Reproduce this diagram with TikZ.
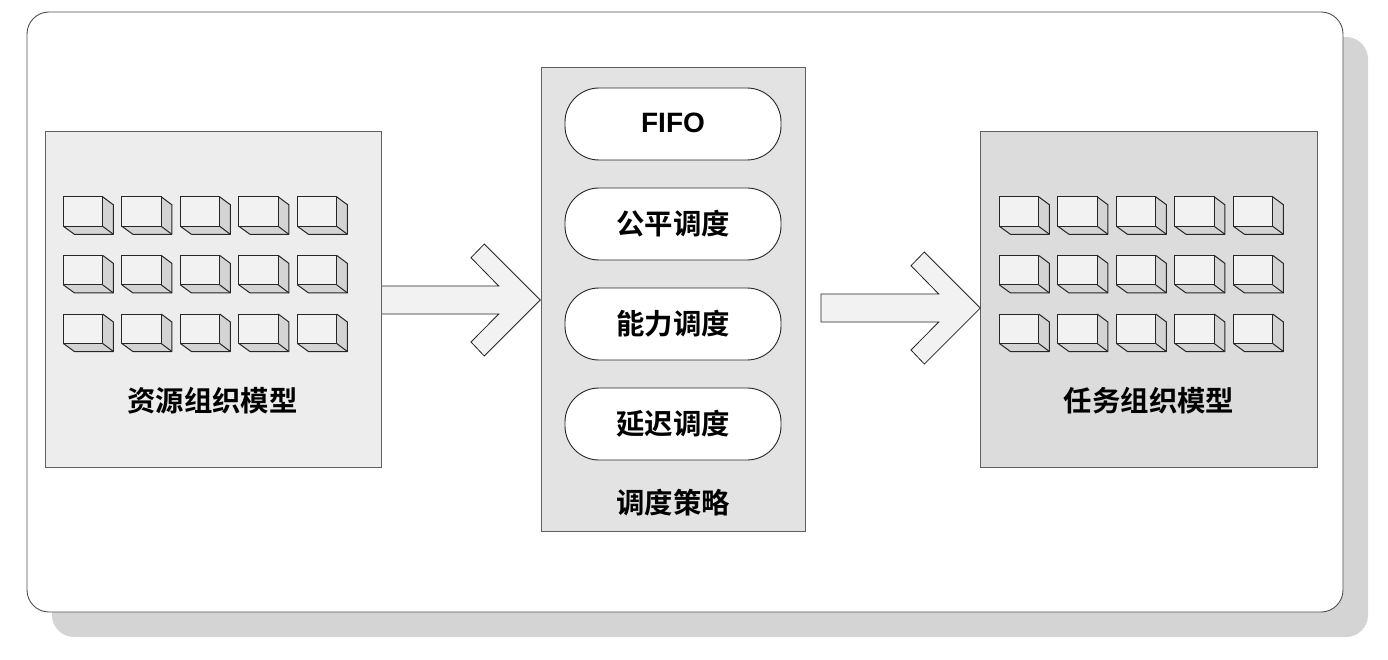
\documentclass[tikz,border=0pt]{standalone}
\usepackage{fontspec}
\newfontfamily\cjk{Noto Sans CJK SC Bold}[BoldFont={Noto Sans CJK SC Bold}]
\newfontfamily\lat{Liberation Sans}
\definecolor{shadowc}{HTML}{D4D4D4}
\definecolor{linec}{HTML}{505050}
\definecolor{boxline}{HTML}{606060}
\definecolor{leftc}{HTML}{EDEDED}
\definecolor{midc}{HTML}{E3E3E3}
\definecolor{rightc}{HTML}{DCDCDC}
\definecolor{arrowc}{HTML}{F2F2F2}
\definecolor{sidec}{HTML}{D4D4D4}
\tikzset{
  panelbox/.style={draw=linec,line width=0.9pt,rounded corners=22pt},
  modelbox/.style={draw=boxline,line width=1pt,anchor=north west,inner sep=0pt,outer sep=0pt},
  pill/.style={draw=black!85,line width=0.9pt,fill=white,rounded corners=34pt,minimum width=216pt,minimum height=72pt,inner sep=0pt,font=\cjk\fontsize{28.4}{28.4}\selectfont},
  title/.style={font=\cjk\fontsize{28.4}{28.4}\selectfont,inner sep=0pt},
  blockarrow/.style={draw=black!85,line width=0.8pt,fill=arrowc,line join=miter},
  cubeedge/.style={draw=black!85,line width=1pt,line join=round}
}
\newcommand{\cube}[2]{%
  \begin{scope}[shift={(#1,#2)}]
    \fill[sidec] (39.3,0) -- (50,8) -- (50,37.5) -- (11,37.5) -- (0,29.5) -- (39.3,29.5) -- cycle;
    \fill[arrowc] (0,0) rectangle (39.3,29.5);
    \draw[cubeedge] (0,0) rectangle (39.3,29.5);
    \draw[cubeedge] (39.3,0) -- (50,8) -- (50,37.5) -- (11,37.5) -- (0,29.5);
    \draw[cubeedge] (39.3,29.5) -- (50,37.5);
  \end{scope}}
\newcommand{\cubegrid}[2]{%
  \foreach \cx in {0,1,2,3,4}{\foreach \cy in {0,1,2}{\cube{#1+58.5*\cx}{#2+58.6*\cy}}}}
\begin{document}
\begin{tikzpicture}[x=1pt,y=-1pt]
\useasboundingbox (0,0) rectangle (1388,660);
\fill[shadowc,rounded corners=22pt] (52,37) rectangle (1368,637);
\draw[panelbox,fill=white] (27,12) rectangle (1343,612);
\node[modelbox,fill=leftc,minimum width=336pt,minimum height=335pt] (res) at (45,132) {};
\node[modelbox,fill=midc,minimum width=264pt,minimum height=463pt] (sched) at (541,68) {};
\node[modelbox,fill=rightc,minimum width=337pt,minimum height=335pt] (task) at (980,132) {};
\cubegrid{63.4}{196.8}
\cubegrid{999.4}{196.8}
\node[title] (resl) at (212.5,401) {资源组织模型};
\node[title] (taskl) at (1149,401) {任务组织模型};
\node[title] (schedl) at (673,503) {调度策略};
\node[pill,font=\lat\bfseries\fontsize{28}{28}\selectfont] (p1) at (673,124) {\raisebox{2pt}{FIFO}};
\node[pill] (p2) at (673,224) {公平调度};
\node[pill] (p3) at (673,324) {能力调度};
\node[pill] (p4) at (673,424) {延迟调度};
\draw[blockarrow] (382,286) -- (498.7,286) -- (471,257.7) -- (484.3,244) -- (540.3,300) -- (484.3,356) -- (471,342) -- (498.7,314) -- (382,314);
\draw[blockarrow] (821,294) -- (938.7,294) -- (911,265.7) -- (924.3,252) -- (980.3,308) -- (924.3,364) -- (911,350) -- (938.7,322) -- (821,322) -- cycle;
\end{tikzpicture}
\end{document}
